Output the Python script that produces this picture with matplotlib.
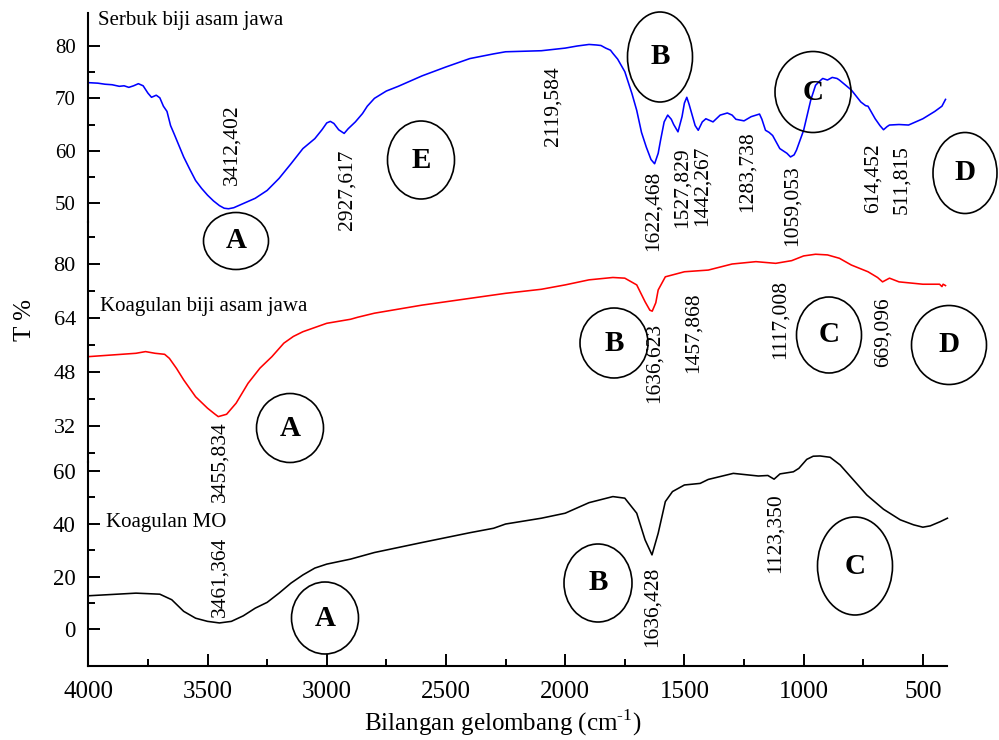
import matplotlib
matplotlib.use("Agg")
import matplotlib.pyplot as plt
from matplotlib.patches import Ellipse
from matplotlib.ticker import FixedLocator

plt.rcParams['font.family'] = ['Liberation Serif', 'DejaVu Serif']
plt.rcParams['mathtext.fontset'] = 'custom'
plt.rcParams['mathtext.rm'] = 'Liberation Serif'

# ---------------- data ----------------
serbuk_wn = [4000, 3960, 3930, 3900, 3870, 3850, 3830, 3810, 3790, 3770, 3750, 3735, 3715, 3700,
             3685, 3670, 3655, 3640, 3620, 3600, 3575, 3550, 3525, 3500, 3475, 3450, 3430, 3412,
             3390, 3350, 3300, 3250, 3200, 3150, 3100, 3050, 3020, 3000, 2985, 2970, 2950, 2927,
             2910, 2880, 2850, 2830, 2800, 2750, 2700, 2600, 2500, 2400, 2300, 2250, 2100, 2000,
             1950, 1900, 1870, 1850, 1830, 1810, 1800, 1780, 1750, 1720, 1700, 1680, 1660, 1640,
             1625, 1610, 1600, 1585, 1570, 1555, 1545, 1527, 1510, 1500, 1490, 1480, 1470, 1455,
             1442, 1425, 1410, 1380, 1350, 1320, 1300, 1284, 1250, 1220, 1185, 1175, 1160, 1145,
             1130, 1100, 1070, 1055, 1040, 1030, 1000, 970, 950, 935, 920, 900, 880, 860, 850,
             800, 760, 740, 730, 700, 680, 665, 650, 640, 600, 560, 500, 450, 420, 405]
serbuk_t = [73.0, 72.9, 72.7, 72.6, 72.3, 72.4, 72.1, 72.4, 72.8, 72.4, 71.0, 70.2, 70.6, 70.1,
            68.5, 67.5, 64.8, 63.2, 61.0, 58.8, 56.5, 54.3, 52.8, 51.5, 50.4, 49.5, 49.0, 48.9,
            49.1, 49.9, 50.9, 52.4, 54.7, 57.5, 60.4, 62.3, 64.0, 65.3, 65.6, 65.2, 64.0, 63.3,
            64.2, 65.5, 67.1, 68.5, 70.0, 71.4, 72.3, 74.3, 76.0, 77.6, 78.5, 78.9, 79.1, 79.6,
            80.0, 80.3, 80.2, 80.1, 79.6, 79.2, 78.6, 77.5, 75.1, 70.9, 67.7, 63.5, 60.7, 58.3,
            57.5, 59.5, 62.0, 65.5, 66.8, 66.0, 65.0, 63.6, 66.5, 69.1, 70.2, 68.8, 67.2, 64.8,
            63.9, 65.5, 66.1, 65.5, 66.8, 67.2, 66.8, 66.0, 65.7, 66.5, 67.0, 66.0, 63.9, 63.5,
            62.9, 60.4, 59.5, 58.8, 59.2, 60.1, 63.9, 69.7, 72.5, 73.2, 73.8, 73.5, 74.0, 73.8, 73.5,
            71.6, 69.3, 68.6, 68.5, 66.1, 64.8, 64.0, 64.6, 64.9, 65.0, 64.9, 66.1, 67.5, 68.5, 69.8]

koag_wn = [4000, 3900, 3800, 3760, 3720, 3680, 3660, 3630, 3600, 3550, 3500, 3470, 3455, 3420,
           3380, 3330, 3280, 3230, 3180, 3140, 3100, 3000, 2900, 2870, 2800, 2600, 2400, 2300,
           2250, 2100, 2000, 1900, 1800, 1750, 1700, 1665, 1645, 1635, 1620, 1610, 1580, 1500,
           1400, 1300, 1200, 1117, 1050, 1000, 950, 900, 850, 800, 730, 690, 669, 640, 600,
           500, 430, 420, 415, 405]
koag_t = [52.5, 53.0, 53.5, 54.0, 53.5, 53.2, 52.0, 49.0, 45.6, 40.6, 37.2, 35.5, 34.7, 35.4,
          38.7, 44.6, 49.1, 52.5, 56.5, 58.5, 59.9, 62.4, 63.6, 64.2, 65.4, 67.8, 69.8, 70.8,
          71.3, 72.5, 73.8, 75.3, 76.0, 75.8, 73.8, 68.8, 66.3, 66.0, 68.5, 72.3, 76.2, 77.7,
          78.2, 80.0, 80.7, 80.2, 81.0, 82.4, 82.9, 82.7, 81.7, 79.7, 77.7, 76.0, 74.7, 75.8, 74.7,
          74.0, 74.0, 73.3, 74.0, 73.6]

mo_wn = [4000, 3900, 3800, 3700, 3650, 3600, 3550, 3500, 3450, 3400, 3350, 3300, 3250, 3200,
         3150, 3100, 3050, 3000, 2900, 2800, 2600, 2400, 2300, 2250, 2100, 2000, 1900, 1800,
         1750, 1700, 1665, 1636, 1610, 1580, 1550, 1500, 1434, 1400, 1295, 1190, 1150, 1124,
         1099, 1043, 1020, 987, 960, 931, 889, 847, 791, 735, 665, 595, 539, 500, 469, 427, 397]
mo_t = [12.7, 13.2, 13.7, 13.3, 11.2, 6.8, 4.2, 3.0, 2.4, 3.0, 5.1, 8.0, 10.2, 13.7,
        17.5, 20.6, 23.2, 24.7, 26.6, 29.1, 32.9, 36.6, 38.3, 39.9, 42.1, 44.0, 48.0, 50.3,
        49.7, 44.0, 33.9, 28.2, 36.4, 48.4, 52.2, 54.7, 55.3, 56.8, 59.1, 58.1, 58.3, 56.9,
        58.9, 59.7, 61.0, 64.4, 65.6, 65.7, 65.2, 62.3, 56.6, 50.9, 45.5, 41.5, 39.6, 38.7, 39.2, 40.8, 42.1]

panel_names = ["Serbuk biji asam jawa", "Koagulan biji asam jawa", "Koagulan MO"]
line_colors = ["#0000ff", "#ff0000", "#000000"]
y_major = [[50, 60, 70, 80], [32, 48, 64, 80], [0, 20, 40, 60]]
y_minor = [[55, 65, 75], [24, 40, 56, 72, 88], [10, 30, 50]]
x_major = [4000, 3500, 3000, 2500, 2000, 1500, 1000, 500]
x_minor = [3750, 3250, 2750, 2250, 1750, 1250, 750]

# ---------------- layout ----------------
W, H = 999, 740
fig = plt.figure(figsize=(W / 100, H / 100), dpi=100)

def fx(x):
    return x / W

def fy(y):
    return 1 - y / H

left_px, right_px = 88.3, 946.7
panel_px = [(13, 222), (222, 462), (462, 666)]
ylims = [(46.37, 86.31), (21.23, 92.47), (-13.92, 63.41)]
series = [(serbuk_wn, serbuk_t), (koag_wn, koag_t), (mo_wn, mo_t)]
ytick_sizes = [15, 16, 16.5]

axes = []
for i in range(3):
    top, bot = panel_px[i]
    ax = fig.add_axes([fx(left_px), fy(bot), fx(right_px - left_px), (bot - top) / H])
    ax.patch.set_alpha(0)
    wn, t = series[i]
    ax.plot(wn, t, color=line_colors[i], lw=1.15, clip_on=False)
    ax.set_xlim(4000, 400)
    ax.set_ylim(*ylims[i])
    for s in ['top', 'right']:
        ax.spines[s].set_visible(False)
    ax.spines['left'].set_linewidth(1.5)
    ax.yaxis.set_major_locator(FixedLocator(y_major[i]))
    ax.yaxis.set_minor_locator(FixedLocator(y_minor[i]))
    ax.tick_params(axis='y', which='major', direction='in', length=8.5, width=1.4,
                   labelsize=ytick_sizes[i], pad=9)
    ax.tick_params(axis='y', which='minor', direction='in', length=4.8, width=1.4)
    if i < 2:
        ax.spines['bottom'].set_visible(False)
        ax.tick_params(axis='x', which='both', bottom=False, labelbottom=False)
    else:
        ax.spines['bottom'].set_linewidth(1.5)
        ax.xaxis.set_major_locator(FixedLocator(x_major))
        ax.xaxis.set_minor_locator(FixedLocator(x_minor))
        ax.tick_params(axis='x', which='major', direction='in', length=8.5, width=1.4,
                       labelsize=18, pad=11)
        ax.tick_params(axis='x', which='minor', direction='in', length=4.8, width=1.4)
    axes.append(ax)

# ---------------- text ----------------
fig.text(fx(503), fy(723), "Bilangan gelombang (cm$^{\\mathrm{\u2010}1}$)", ha='center',
         va='center', fontsize=18)
fig.text(fx(25), fy(320), "T %", rotation=90, ha='center', va='center', fontsize=18)

name_pos = [(98, 20), (100, 307), (106, 522)]
for name, (x, y) in zip(panel_names, name_pos):
    fig.text(fx(x), fy(y), name, ha='left', va='center', fontsize=15)

peak_labels = [
    ("3412,402", 232, 145), ("2927,617", 347, 190), ("2119,584", 553, 106),
    ("1622,468", 653, 211), ("1527,829", 682, 188), ("1442,267", 702, 186),
    ("1283,738", 747, 172), ("1059,053", 792, 206), ("614,452", 873, 178),
    ("511,815", 902, 180),
    ("3455,834", 220, 462), ("1636,623", 654, 363), ("1457,868", 693, 333),
    ("1117,008", 780, 319), ("669,096", 883, 332),
    ("3461,364", 220, 577), ("1636,428", 652, 607), ("1123,350", 775, 533),
]
for txt, x, y in peak_labels:
    fig.text(fx(x), fy(y), txt, rotation=90, ha='center', va='center', fontsize=15.5)

# circled group letters: (letter, centre x, centre y, width, height) in reference pixels
circles = [
    ("A", 236, 241, 65, 57), ("E", 421, 160, 67, 78), ("B", 660, 57, 65, 90),
    ("C", 813, 92, 76, 81), ("D", 965, 173, 64, 81),
    ("A", 290, 428, 67, 69), ("B", 614, 343, 68, 70), ("C", 829, 335, 65, 76),
    ("D", 949, 345, 75, 79),
    ("A", 325, 618, 67, 72), ("B", 598, 583, 68, 78), ("C", 855, 566, 75, 98),
]
for letter, x, y, w, h in circles:
    e = Ellipse((fx(x), fy(y)), w / W, h / H, transform=fig.transFigure,
                fill=False, edgecolor='black', lw=1.2)
    fig.add_artist(e)
    fig.text(fx(x), fy(y), letter, ha='center', va='center', fontsize=21, fontweight='bold')

fig.savefig("out.png", dpi=100)
